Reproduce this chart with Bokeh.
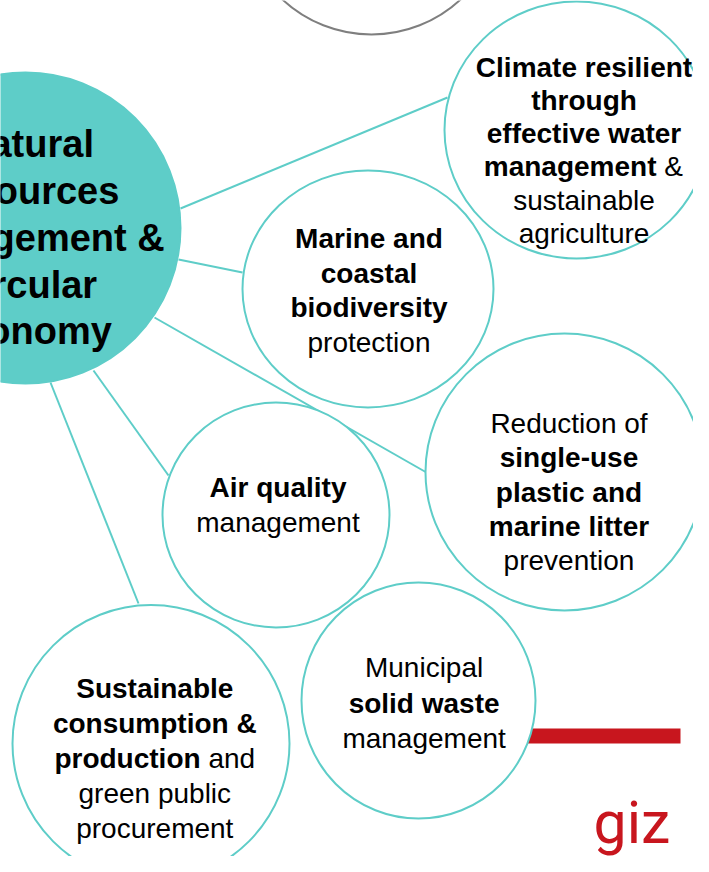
from bokeh.plotting import figure
from bokeh.models import Range1d, ColumnDataSource
from bokeh.core.properties import value
from bokeh.embed import file_html
from bokeh.resources import INLINE

TEAL = "#5ecdc8"
RED = "#c8161e"
FONT = "Liberation Sans"

# ---- nodes (centre x, centre y, width, height) in page pixels ----
node_names = ["hub", "top", "climate", "marine", "plastic", "air", "scp", "waste"]
node_x = [25, 371, 576, 367.5, 564, 275.5, 150.5, 418]
node_y = [227.5, -97, 129.5, 288.5, 471.5, 514.5, 743, 700]
node_w = [310, 262, 264, 251, 278, 227, 277, 234]
node_h = [311, 262, 257, 237, 277, 225, 277, 236]
node_fill = [TEAL, "white", "white", "white", "white", "white", "white", "white"]
node_line = [TEAL, "#7f7f7f", TEAL, TEAL, TEAL, TEAL, TEAL, TEAL]

# ---- connectors from the hub to the topic circles ----
link_x0 = [180, 178, 154, 93, 50]
link_y0 = [208, 259, 317, 370, 382]
link_x1 = [447, 242, 426, 168, 138]
link_y1 = [97, 272, 472, 475, 603]

# ---- labels: (text, x, y, weight, align) ----
labels = [
    # climate
    ("Climate resilient", 583.5, 66.5, "bold", "center"),
    ("through", 583.5, 99.8, "bold", "center"),
    ("effective water", 583.5, 133.1, "bold", "center"),
    ("management", 656.0, 166.4, "bold", "right"),
    ("&", 663.8, 166.4, "normal", "left"),
    ("sustainable", 583.5, 199.7, "normal", "center"),
    ("agriculture", 583.5, 233.0, "normal", "center"),
    # marine
    ("Marine and", 368.5, 238.3, "bold", "center"),
    ("coastal", 368.5, 272.8, "bold", "center"),
    ("biodiversity", 368.5, 307.2, "bold", "center"),
    ("protection", 368.5, 341.7, "normal", "center"),
    # plastic
    ("Reduction of", 568.5, 423.0, "normal", "center"),
    ("single-use", 568.5, 457.2, "bold", "center"),
    ("plastic and", 568.5, 491.5, "bold", "center"),
    ("marine litter", 568.5, 525.7, "bold", "center"),
    ("prevention", 568.5, 560.0, "normal", "center"),
    # air
    ("Air quality", 277.5, 487.0, "bold", "center"),
    ("management", 277.5, 522.0, "normal", "center"),
    # scp
    ("Sustainable", 154.3, 688.0, "bold", "center"),
    ("consumption &", 154.3, 722.5, "bold", "center"),
    ("production", 200.1, 757.5, "bold", "right"),
    ("and", 207.9, 757.5, "normal", "left"),
    ("green public", 154.3, 792.5, "normal", "center"),
    ("procurement", 154.3, 827.5, "normal", "center"),
    # waste
    ("Municipal", 423.6, 667.0, "normal", "center"),
    ("solid waste", 423.6, 702.6, "bold", "center"),
    ("management", 423.6, 738.0, "normal", "center"),
]

hub_lines = ["Natural", "resources", "management &", "circular", "economy"]
hub_base = [143, 190, 237, 284, 330]
hub_cx = 28

p = figure(width=693, height=856, output_backend="svg", toolbar_location=None,
           x_range=Range1d(0, 693), y_range=Range1d(856, 0),
           min_border=0, outline_line_color=None, background_fill_color="white",
           border_fill_color="white")
p.axis.visible = False
p.grid.visible = False

# connectors
p.segment(x0=link_x0, y0=link_y0, x1=link_x1, y1=link_y1, line_color=TEAL, line_width=2)

# red bar (behind the waste circle)
p.quad(left=[500], right=[680], top=[728], bottom=[743], fill_color=RED, line_color=None)

# circles: fills first, then outlines so overlapping rims stay visible
src = ColumnDataSource(dict(x=node_x, y=node_y, w=node_w, h=node_h, fc=node_fill, lc=node_line))
p.ellipse(x="x", y="y", width="w", height="h", fill_color="fc", line_color=None, source=src)
p.ellipse(x="x", y="y", width="w", height="h", fill_color=None, line_color="lc",
          line_width=2, source=src)

# hub text
p.text(x=[hub_cx] * len(hub_lines), y=hub_base, text=hub_lines, text_font=value(FONT),
       text_font_size="38px", text_font_style="bold", text_align="center",
       text_baseline="alphabetic", text_color="black")

for style in ["bold", "normal"]:
    for align in ["center", "left", "right"]:
        sel = [l for l in labels if l[3] == style and l[4] == align]
        if not sel:
            continue
        p.text(x=[l[1] for l in sel], y=[l[2] for l in sel], text=[l[0] for l in sel],
               text_font=value(FONT), text_font_size="28px", text_font_style=style,
               text_align=align, text_baseline="alphabetic", text_color="black")

# giz logo
p.text(x=[593], y=[822], text=["giz"], text_font=value("Roboto"), text_font_size="59px",
       text_align="left", text_baseline="alphabetic", text_color=RED)

open("out.html", "w").write(file_html(p, INLINE))
